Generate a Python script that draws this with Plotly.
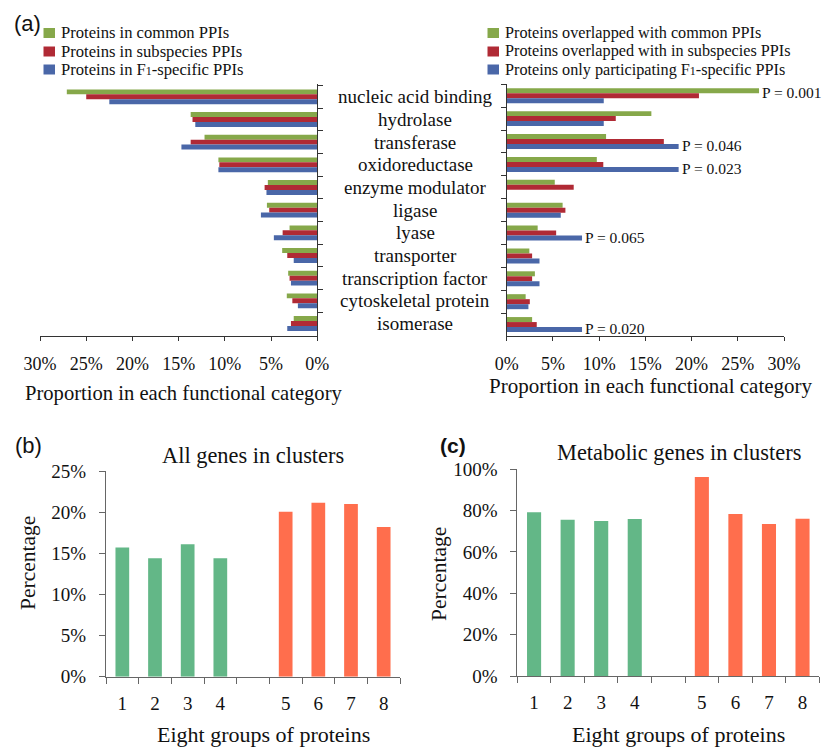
import plotly.graph_objects as go

W, H = 822, 747
SERIF = "Liberation Serif, Times New Roman, serif"
SANS = "Liberation Sans, Arial, sans-serif"

# ---- (a) functional categories -------------------------------------------
categories = ["nucleic acid binding", "hydrolase", "transferase", "oxidoreductase",
              "enzyme modulator", "ligase", "lyase", "transporter",
              "transcription factor", "cytoskeletal protein", "isomerase"]

F1 = 'F<span style="font-size:12px">1</span>'
left_names = ["Proteins in common PPIs", "Proteins in subspecies PPIs",
              "Proteins in " + F1 + "-specific PPIs"]
common_ppi = [27.1, 13.7, 12.2, 10.7, 5.35, 5.45, 3.0, 3.8, 3.15, 3.3, 2.55]
subspecies_ppi = [25.0, 13.5, 13.7, 10.6, 5.7, 5.2, 3.75, 3.25, 3.0, 2.7, 2.85]
f1_specific_ppi = [22.5, 13.2, 14.7, 10.7, 5.5, 6.1, 4.7, 2.55, 2.85, 2.1, 3.25]

right_names = ["Proteins overlapped with common PPIs",
               "Proteins overlapped with in subspecies PPIs",
               "Proteins only participating " + F1 + "-specific PPIs"]
overlap_common = [27.3, 15.65, 10.75, 9.75, 5.2, 6.05, 3.35, 2.45, 3.05, 2.05, 2.75]
overlap_subspecies = [20.8, 11.8, 17.0, 10.45, 7.25, 6.35, 5.35, 2.75, 2.75, 2.5, 3.25]
only_f1 = [10.5, 10.5, 18.6, 18.6, 0, 5.85, 8.15, 3.55, 3.55, 2.35, 8.15]

# significance labels: category, text, series index the label follows
p_labels = [("nucleic acid binding", "P = 0.001", 0),
            ("transferase", "P = 0.046", 2),
            ("oxidoreductase", "P = 0.023", 2),
            ("lyase", "P = 0.065", 2),
            ("isomerase", "P = 0.020", 2)]

prop_ticks = [0, 5, 10, 15, 20, 25, 30]
prop_tick_text = ["0%", "5%", "10%", "15%", "20%", "25%", "30%"]

# ---- (b), (c) eight protein groups ----------------------------------------
groups = ["1", "2", "3", "4", "5", "6", "7", "8"]
all_genes = [15.7, 14.4, 16.1, 14.4, 20.05, 21.15, 21.0, 18.2]
metabolic_genes = [79.2, 75.6, 75.0, 76.0, 96.3, 78.4, 73.5, 76.1]

series_colors = ["#86A84A", "#B02A35", "#4A67A8"]
group_colors = ["#63B787"] * 4 + ["#FF6E4D"] * 4


def px_x(v):
    return v / W


def px_y(v):
    return 1 - v / H


fig = go.Figure()

left_vals = [common_ppi, subspecies_ppi, f1_specific_ppi]
right_vals = [overlap_common, overlap_subspecies, only_f1]
for i in range(3):
    fig.add_trace(go.Bar(x=left_vals[i], y=categories, orientation="h",
                         marker=dict(color=series_colors[i], line_width=0),
                         xaxis="x", yaxis="y", showlegend=False,
                         name=left_names[i]))
for i in range(3):
    fig.add_trace(go.Bar(x=right_vals[i], y=categories, orientation="h",
                         marker=dict(color=series_colors[i], line_width=0),
                         xaxis="x2", yaxis="y2", showlegend=False,
                         name=right_names[i]))

# spacer slot between the two sets of four groups
slot_order = groups[:4] + [" "] + groups[4:]
fig.add_trace(go.Bar(x=groups, y=all_genes, width=0.42,
                     marker=dict(color=group_colors, line_width=0),
                     xaxis="x3", yaxis="y3", showlegend=False))
fig.add_trace(go.Bar(x=groups, y=metabolic_genes, width=0.42,
                     marker=dict(color=group_colors, line_width=0),
                     xaxis="x4", yaxis="y4", showlegend=False))

top_y_dom = [px_y(336), px_y(84.3)]
axis_font = dict(family=SERIF, size=18, color="#111")
tick_font = dict(family=SERIF, size=19, color="#111")
top_line = "#333"
bot_line = "#666"

common_x = dict(tickmode="array", tickvals=prop_ticks, ticktext=prop_tick_text,
                ticks="outside", ticklen=4, tickcolor=top_line,
                showline=True, linecolor=top_line, linewidth=1,
                showgrid=False, zeroline=False, tickfont=axis_font,
                ticklabelstandoff=7, automargin=False, fixedrange=True)
common_y = dict(type="category", categoryorder="array", categoryarray=categories,
                autorange="reversed", showticklabels=False, ticks="outside",
                tickson="boundaries", ticklen=5, tickcolor=top_line,
                showline=True, linecolor=top_line, linewidth=1,
                showgrid=False, zeroline=False, domain=top_y_dom,
                automargin=False)
group_x = dict(type="category", categoryorder="array", categoryarray=slot_order,
               range=[-0.5, 8.5], tickson="boundaries", ticks="outside",
               ticklen=6, tickcolor=bot_line, showline=True, linecolor=bot_line,
               showgrid=False, tickfont=tick_font, ticklabelstandoff=9,
               automargin=False, fixedrange=True)
pct_y = dict(ticksuffix="%", ticks="outside", ticklen=6, tickcolor=bot_line,
             showline=True, linecolor=bot_line, showgrid=False, zeroline=False,
             tickfont=tick_font, ticklabelstandoff=9, automargin=False,
             fixedrange=True)

fig.update_layout(
    width=W, height=H, margin=dict(l=0, r=0, t=0, b=0, autoexpand=False),
    paper_bgcolor="white", plot_bgcolor="white",
    barmode="group", bargap=0.345, bargroupgap=0,
    font=dict(family=SERIF, color="#111"),
    xaxis=dict(common_x, domain=[px_x(40), px_x(317.3)], range=[30, 0],
               anchor="y"),
    yaxis=dict(common_y, side="right", anchor="x"),
    xaxis2=dict(common_x, domain=[px_x(506.7), px_x(784)], range=[0, 30],
                anchor="y2"),
    yaxis2=dict(common_y, side="left", anchor="x2"),
    xaxis3=dict(group_x, domain=[px_x(106), px_x(400)], anchor="y3"),
    yaxis3=dict(pct_y, range=[0, 25], dtick=5,
                domain=[px_y(676.7), px_y(471)], anchor="x3"),
    xaxis4=dict(group_x, domain=[px_x(517.3), px_x(819.3)], anchor="y4"),
    yaxis4=dict(pct_y, range=[0, 100], dtick=20,
                domain=[px_y(676), px_y(469.3)], anchor="x4"),
)

ann = []


def text_at(x, y, text, size, family=SERIF, xanchor="center", angle=0):
    ann.append(dict(x=px_x(x), y=px_y(y), xref="paper", yref="paper",
                    text=text, showarrow=False, xanchor=xanchor,
                    yanchor="middle", textangle=angle,
                    font=dict(family=family, size=size, color="#111")))


# category names between the two halves of panel (a)
for c in categories:
    ann.append(dict(x=px_x(415), y=c, xref="paper", yref="y", text=c,
                    showarrow=False, xanchor="center", yanchor="middle",
                    font=dict(family=SERIF, size=19, color="#111")))

# P-values next to the bars they refer to
for cat, txt, si in p_labels:
    v = right_vals[si][categories.index(cat)]
    ann.append(dict(x=v, y=cat, xref="x2", yref="y2", text=txt,
                    showarrow=False, xanchor="left", yanchor="middle",
                    xshift=1, yshift=3 if si == 0 else -4,
                    font=dict(family=SERIF, size=15.5, color="#111")))

# legends of panel (a)
rows = [33, 51.5, 69.5]
shapes = []
for i in range(3):
    for sx, tx, names, fs in [(43.5, 59, left_names, 16.6),
                              (487.5, 503, right_names, 16.2)]:
        shapes.append(dict(type="rect", xref="paper", yref="paper",
                           x0=px_x(sx), x1=px_x(sx + 11.5),
                           y0=px_y(rows[i] + 5), y1=px_y(rows[i] - 5),
                           fillcolor=series_colors[i], line_width=0))
        text_at(tx, rows[i], names[i], fs, xanchor="left")

text_at(184, 393, "Proportion in each functional category", 20.6)
text_at(651, 386, "Proportion in each functional category", 21)

# panel letters
text_at(27, 23, "(a)", 22, family=SANS)
text_at(28, 445, "(b)", 22, family=SANS)
text_at(453, 445, "<b>(c)</b>", 21, family=SANS)

# titles of (b) and (c)
text_at(253, 455, "All genes in clusters", 22.4)
text_at(679, 452, "Metabolic genes in clusters", 22.4)
text_at(263, 734, "Eight groups of proteins", 22)
text_at(678, 734, "Eight groups of proteins", 22)
text_at(28, 563, "Percentage", 21.5, angle=-90)
text_at(439, 574, "Percentage", 21.5, angle=-90)

fig.update_layout(annotations=ann, shapes=shapes)
fig.write_html(
    "out.html",
    post_script="document.body.style.margin='0';"
                "document.body.style.overflow='hidden';",
)
